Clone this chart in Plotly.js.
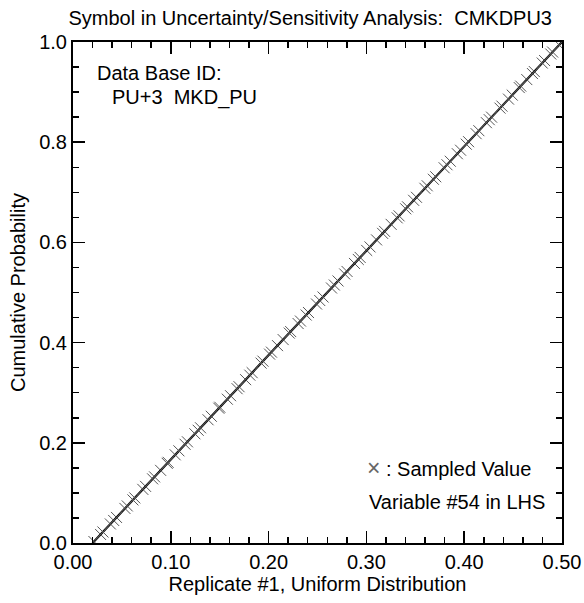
<!DOCTYPE html>
<html>
<head>
<meta charset="utf-8">
<script src="https://cdn.plot.ly/plotly-3.0.1.min.js"></script>
<style>html,body{margin:0;padding:0;background:#fff;}#chart{width:584px;height:603px;}</style>
</head>
<body>
<div id="chart"></div>
<script>
// Uniform distribution CDF end points (min, max)
const cdfX = [0.02, 0.50];
const cdfY = [0.0, 1.0];

// Latin Hypercube sampled values (replicate #1) and their cumulative probabilities
const sampleX = [
  0.0214, 0.0282, 0.0306, 0.0382, 0.0416, 0.0445, 0.0531, 0.0555, 0.0613, 0.0632,
  0.0714, 0.0742, 0.0814, 0.0834, 0.0896, 0.0963, 0.0973, 0.1045, 0.1083, 0.1146,
  0.1170, 0.1246, 0.1280, 0.1304, 0.1381, 0.1414, 0.1491, 0.1501, 0.1578, 0.1611,
  0.1678, 0.1698, 0.1765, 0.1808, 0.1832, 0.1923, 0.1942, 0.2010, 0.2029, 0.2091,
  0.2149, 0.2211, 0.2226, 0.2302, 0.2326, 0.2384, 0.2408, 0.2490, 0.2523, 0.2557,
  0.2643, 0.2672, 0.2710, 0.2778, 0.2802, 0.2878, 0.2917, 0.2936, 0.3003, 0.3037,
  0.3104, 0.3166, 0.3186, 0.3253, 0.3315, 0.3334, 0.3402, 0.3421, 0.3483, 0.3512,
  0.3598, 0.3622, 0.3685, 0.3709, 0.3795, 0.3824, 0.3858, 0.3930, 0.3963, 0.4021,
  0.4045, 0.4122, 0.4150, 0.4227, 0.4256, 0.4280, 0.4366, 0.4386, 0.4453, 0.4491,
  0.4563, 0.4578, 0.4640, 0.4698, 0.4717, 0.4798, 0.4822, 0.4885, 0.4904, 0.4971
];
const sampleY = [
  0.003, 0.017, 0.022, 0.038, 0.045, 0.051, 0.069, 0.074, 0.086, 0.090,
  0.107, 0.113, 0.128, 0.132, 0.145, 0.159, 0.161, 0.176, 0.184, 0.197,
  0.202, 0.218, 0.225, 0.230, 0.246, 0.253, 0.269, 0.271, 0.287, 0.294,
  0.308, 0.312, 0.326, 0.335, 0.340, 0.359, 0.363, 0.377, 0.381, 0.394,
  0.406, 0.419, 0.422, 0.438, 0.443, 0.455, 0.460, 0.477, 0.484, 0.491,
  0.509, 0.515, 0.523, 0.537, 0.542, 0.558, 0.566, 0.570, 0.584, 0.591,
  0.605, 0.618, 0.622, 0.636, 0.649, 0.653, 0.667, 0.671, 0.684, 0.690,
  0.708, 0.713, 0.726, 0.731, 0.749, 0.755, 0.762, 0.777, 0.784, 0.796,
  0.801, 0.817, 0.823, 0.839, 0.845, 0.850, 0.868, 0.872, 0.886, 0.894,
  0.909, 0.912, 0.925, 0.937, 0.941, 0.958, 0.963, 0.976, 0.980, 0.994
];

const titleText = "Symbol in Uncertainty/Sensitivity Analysis:\u00A0\u00A0CMKDPU3";
const xTitle = "Replicate #1, Uniform Distribution";
const yTitle = "Cumulative Probability";
const noteLines = ["Data Base ID:", "PU+3\u00A0\u00A0MKD_PU"];
const legendText = "<span style='color:#666;font-size:23px'>\u00D7</span> : Sampled Value";
const lhsText = "Variable #54 in LHS";

const FONT = "Liberation Sans, Arial, Helvetica, sans-serif";
const FS = 20;

const traces = [
  {
    x: cdfX, y: cdfY, mode: "lines", type: "scatter",
    line: {color: "#000", width: 2.2}, hoverinfo: "skip", showlegend: false
  },
  {
    x: sampleX, y: sampleY, mode: "markers", type: "scatter",
    marker: {symbol: "x-thin-open", size: 11, color: "#555", line: {color: "#555", width: 1}},
    showlegend: false
  }
];

const axisCommon = {
  showgrid: false, zeroline: false,
  showline: true, linecolor: "#000", linewidth: 2,
  mirror: "ticks", ticks: "inside", tickcolor: "#000", tickwidth: 1.5, ticklen: 12,
  tickfont: {family: FONT, size: FS, color: "#000"}
};

const layout = {
  width: 584, height: 603,
  margin: {l: 73, r: 22, t: 42, b: 60},
  paper_bgcolor: "#fff", plot_bgcolor: "#fff",
  font: {family: FONT, size: FS, color: "#000"},
  title: {
    text: titleText, font: {family: FONT, size: FS, color: "#000"},
    xref: "container", x: 552 / 584, xanchor: "right",
    yref: "container", y: 1 - 18 / 603, yanchor: "middle"
  },
  xaxis: Object.assign({}, axisCommon, {
    range: [0, 0.5], tick0: 0, dtick: 0.1, tickformat: ".2f",
    minor: {dtick: 0.02, ticks: "inside", ticklen: 6, tickwidth: 1.5, tickcolor: "#000"},
    title: {text: xTitle, font: {family: FONT, size: FS, color: "#000"}, standoff: 4}
  }),
  yaxis: Object.assign({}, axisCommon, {
    range: [0, 1], tick0: 0, dtick: 0.2, tickformat: ".1f",
    minor: {dtick: 0.05, ticks: "inside", ticklen: 6, tickwidth: 1.5, tickcolor: "#000"},
    title: {text: yTitle, font: {family: FONT, size: FS, color: "#000"}, standoff: 8}
  }),
  annotations: [
    {xref: "paper", yref: "paper", x: (95 - 73) / 489, y: (543 - 73) / 501, xanchor: "left", yanchor: "middle",
     text: noteLines[0], showarrow: false, font: {family: FONT, size: FS, color: "#000"}},
    {xref: "paper", yref: "paper", x: (110 - 73) / 489, y: (543 - 98) / 501, xanchor: "left", yanchor: "middle",
     text: noteLines[1], showarrow: false, font: {family: FONT, size: FS, color: "#000"}},
    {xref: "paper", yref: "paper", x: (365 - 73) / 489, y: (543 - 468) / 501, xanchor: "left", yanchor: "middle",
     text: legendText, showarrow: false, font: {family: FONT, size: FS, color: "#000"}},
    {xref: "paper", yref: "paper", x: (367 - 73) / 489, y: (543 - 502) / 501, xanchor: "left", yanchor: "middle",
     text: lhsText, showarrow: false, font: {family: FONT, size: FS, color: "#000"}}
  ]
};

Plotly.newPlot("chart", traces, layout, {displayModeBar: false, staticPlot: true});
</script>
</body>
</html>
